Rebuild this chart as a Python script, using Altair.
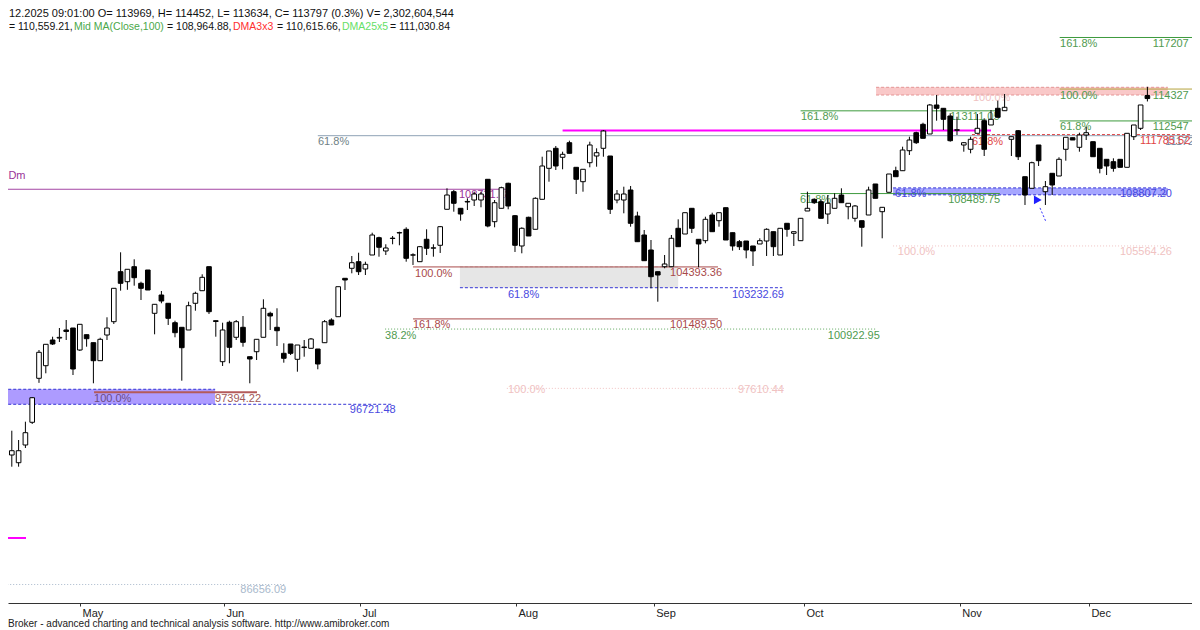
import altair as alt
import pandas as pd

FONT = "Liberation Sans"

# ---------------- daily OHLC (bar 1 .. 169) ----------------
opens = [92884, 93889, 93459, 94448, 95716, 98173, 98877, 100312, 100420, 100871,
         100982, 99753, 100608, 100162, 99156, 100591, 101334, 104127, 103568, 104407,
         103479, 104221, 101803, 102825, 102362, 101278, 101021, 100871, 102362, 103065,
         104407, 101390, 99100, 101301, 100463, 101021, 99379, 99658, 100463, 101803,
         101021, 99569, 100088, 99234, 99890, 99848, 99809, 100161, 101429, 101613,
         103758, 104316, 104685, 104278, 105059, 106026, 105284, 105980, 106290, 106494,
         105050, 104685, 105937, 105440, 105602, 107612, 108595, 107667, 108020, 108131,
         108131, 109287, 106919, 107667, 109064, 107254, 105563, 107165, 106495, 108170,
         109901, 111018, 110516, 111331, 109957, 109153, 110214, 110588, 111018, 110588,
         108131, 108131, 108689, 107237, 106176, 105339, 104127, 104406, 104406, 106550,
         106232, 107667, 105936, 105858, 107293, 106975, 107701, 106305, 105802, 105841,
         105563, 105674, 105841, 106361, 105059, 106830, 106271, 105858, 107517, 108170,
         108036, 107349, 107667, 108410, 107757, 107109, 106975, 107293, 109025, 107478,
         108561, 109767, 109767, 110884, 111890, 112359, 111817, 113437, 113252, 112822,
         112020, 111203, 110963, 111856, 112560, 112320, 113252, 113118, 111521, 112001,
         109432, 108784, 111203, 108595, 109622, 109471, 110963, 111610, 111074, 111761,
         111387, 111018, 110404, 110270, 110404, 109957, 111666, 112135, 113969]
highs = [94057, 95246, 94727, 95749, 97129, 99753, 100072, 100496, 100982, 101429,
         100982, 101189, 100608, 100162, 100440, 101580, 103199, 105210, 104261, 104820,
         103569, 104221, 102306, 103048, 102362, 101390, 101021, 102451, 103010, 103981,
         104407, 101390, 101278, 101390, 101429, 101652, 99379, 100351, 102585, 101893,
         102083, 100128, 100088, 100032, 100312, 100424, 99809, 101429, 101524, 103289,
         103758, 105003, 105187, 104685, 106305, 106082, 105658, 106121, 106361, 106606,
         105154, 105563, 106495, 105658, 106679, 108784, 108689, 107667, 108226, 108595,
         108595, 109287, 108131, 108874, 109097, 107293, 106606, 107198, 108281, 110549,
         110868, 111147, 110829, 111443, 109957, 109846, 111387, 111018, 112040, 110588,
         108689, 108874, 108913, 107478, 106455, 105897, 104127, 105059, 106176, 107053,
         107422, 107667, 105936, 107198, 107422, 107422, 107701, 106305, 105897, 105841,
         105563, 105993, 106550, 106361, 106550, 106830, 106361, 107109, 108595, 108226,
         108170, 108410, 108505, 108784, 107947, 107852, 106975, 108874, 109025, 107723,
         109583, 109991, 111108, 111666, 111946, 112448, 113493, 113995, 113252, 112973,
         112783, 111370, 111666, 112934, 112694, 113157, 113677, 114051, 111666, 112040,
         109432, 110270, 111203, 109192, 109622, 110516, 111633, 111610, 111890, 112225,
         111387, 111018, 110404, 110460, 110404, 111856, 112320, 113437, 114452]
lows = [92661, 93236, 93236, 94280, 95621, 97919, 98452, 100033, 100200, 100312,
        98357, 99697, 99938, 97894, 99156, 100312, 101206, 103067, 103116, 103345,
        102546, 103104, 100630, 102362, 101150, 100463, 98039, 100871, 101948, 103065,
        101765, 100496, 98860, 99011, 100312, 99937, 97894, 99195, 100463, 100871,
        99977, 99045, 99474, 98542, 99380, 99848, 98676, 100161, 101150, 101613,
        103104, 104037, 103942, 103942, 105059, 104965, 105060, 105658, 105602, 104685,
        104502, 104685, 105060, 104965, 105172, 107612, 107478, 106975, 107572, 107796,
        107724, 106606, 106606, 107667, 107612, 105228, 105154, 106121, 106495, 108170,
        109153, 109806, 109846, 110739, 108466, 108595, 109957, 109991, 110549, 107349,
        107947, 107388, 106640, 105802, 104741, 103198, 102451, 104317, 104406, 105523,
        106232, 106288, 104373, 105713, 106361, 106640, 105897, 105300, 105339, 104875,
        104446, 105674, 105004, 105004, 105059, 106082, 105563, 105858, 107517, 107908,
        107109, 106791, 107667, 107980, 107053, 106919, 105523, 107293, 108226, 105993,
        108561, 109432, 109767, 110644, 111259, 111577, 111817, 112560, 112040, 111387,
        111761, 110829, 110739, 111856, 110588, 112320, 112750, 113118, 110588, 110365,
        107852, 108784, 110030, 107852, 108410, 109471, 110326, 111482, 110829, 111482,
        110549, 109622, 109527, 109712, 109957, 109957, 111482, 112040, 113634]
closes = [93722, 94129, 94129, 95135, 97089, 99625, 100072, 100089, 100460, 100787,
          98692, 101189, 100385, 99156, 100351, 100982, 103199, 103479, 104261, 103792,
          103199, 103104, 102306, 102490, 101524, 100720, 99882, 102228, 102920, 103813,
          101893, 101345, 100871, 99905, 101334, 100183, 99251, 100351, 102082, 101653,
          100831, 99290, 99569, 100032, 99920, 100368, 98972, 101334, 101150, 103289,
          103663, 104629, 104127, 104540, 106176, 105491, 105451, 106000, 106310, 104875,
          105070, 105523, 105434, 105460, 106640, 108410, 107947, 107349, 108050, 108466,
          108466, 106679, 107980, 108818, 107796, 105602, 106551, 106121, 108226, 110030,
          110868, 110030, 110683, 110739, 109287, 109846, 111203, 110773, 111985, 107612,
          108466, 108466, 106830, 105802, 104741, 103848, 103942, 104557, 105993, 105523,
          107422, 106550, 105674, 107053, 106361, 107422, 105897, 105563, 105523, 105339,
          105284, 105858, 106494, 105523, 106550, 106494, 106361, 107109, 107667, 107980,
          107109, 107947, 108226, 107980, 107947, 107796, 106606, 108689, 108226, 107723,
          109583, 109432, 110923, 111482, 111331, 111577, 113437, 113252, 112638, 111443,
          112060, 111331, 111521, 112135, 110963, 112638, 112750, 113308, 111666, 110549,
          108410, 110214, 110326, 108874, 108969, 110404, 111633, 111482, 111761, 111890,
          110549, 109901, 110030, 109901, 109957, 111856, 112320, 113437, 113797]

month_ticks = [12.03, 33.2, 53.2, 76.15, 96.4, 118.5, 141.4, 160.4]
month_names = ["May", "Jun", "Jul", "Aug", "Sep", "Oct", "Nov", "Dec"]

header_1 = "12.2025 09:01:00 O= 113969, H= 114452, L= 113634, C= 113797 (0.3%) V= 2,302,604,544"
header_2 = ["= 110,559.21,", "Mid MA(Close,100)", "= 108,964.88,", "DMA3x3",
            "= 110,615.66,", "DMA25x5", "= 111,030.84"]
footer = "Broker - advanced charting and technical analysis software. http://www.amibroker.com"

# ---------------- scales ----------------
W, H = 1184, 595
XS = alt.Scale(domain=[1.4412, 175.559], nice=False, zero=False)
YS = alt.Scale(domain=[85623.5, 118854.2], nice=False, zero=False)
label_expr = "%s[indexof(%s, datum.value)]" % (
    "[" + ",".join("'%s'" % m for m in month_names) + "]",
    "[" + ",".join(str(t) for t in month_ticks) + "]")
XAX = alt.Axis(values=month_ticks, labelExpr=label_expr, title=None, grid=False,
               domainColor="#333333", tickColor="#333333", tickSize=3,
               labelFont=FONT, labelFontSize=11, labelColor="#222222",
               labelAlign="left", labelBaseline="top", labelPadding=1,
               labelOffset=2, labelFlush=False, labelOverlap=False)


def X(field):
    return alt.X(field, type="quantitative", scale=XS, axis=XAX)


def Y(field):
    return alt.Y(field, type="quantitative", scale=YS, axis=None)


layers = []


def band(i1, i2, p1, p2, fill, opacity=1.0):
    d = pd.DataFrame({"a": [i1], "b": [i2], "p": [p1], "q": [p2]})
    layers.append(alt.Chart(d).mark_rect(fill=fill, opacity=opacity, clip=True)
                  .encode(x=X("a"), x2="b", y=Y("p"), y2="q"))


def hline(i1, i2, p, color, width=1, dash=None):
    d = pd.DataFrame({"a": [i1], "b": [i2], "p": [p]})
    kw = dict(color=color, strokeWidth=width, clip=True)
    if dash:
        kw["strokeDash"] = dash
    layers.append(alt.Chart(d).mark_rule(**kw).encode(x=X("a"), x2="b", y=Y("p")))


def label(txt, i, p, color, size=11):
    d = pd.DataFrame({"i": [i], "p": [p], "t": [txt]})
    layers.append(alt.Chart(d).mark_text(align="left", baseline="middle", font=FONT,
                                         fontSize=size, color=color)
                  .encode(x=X("i"), y=Y("p"), text="t:N"))


GREEN = "#3d9a3d"
GTXT = "#4f9a4f"
BLUE = "#3535d5"
DRED = "#a84a4a"
RED = "#e04545"
PURP = "#a445a4"
PINK = "#f0c2c2"
DASH = [3, 2]
DOT = [1, 2]

# bands
band(0, 31.9, 97560, 96721.48, "#ad9bff")
band(67.9, 100.0, 104393.36, 103232.69, "#e6e6e6")
band(129.1, 172.0, 114425, 113995, "#f9c8c8")
band(131.6, 172.0, 108807.20, 108420, "#a6a6ff")

# band borders
hline(0, 31.9, 97560, BLUE, 1, DASH)
hline(129.1, 172.0, 114425, "#e49494", 1, DASH)
hline(129.1, 172.0, 113995, "#e49494", 1, DASH)
hline(131.6, 172.0, 108807.20, BLUE, 1, DASH)
hline(131.6, 172.0, 108420, BLUE, 1, DASH)
hline(67.9, 100.0, 104393.36, "#c8c8c8", 1, DASH)

# level lines
hline(0, 75, 108731.18, PURP, 1)
hline(47, 176, 111722, "#8ea2b6", 1)
hline(83, 146, 112013, "#ff00ff", 2)
hline(118, 147, 113111.05, GREEN, 1)
hline(156.1, 176, 117207, GREEN, 1)
hline(156.1, 176, 114327, "#b4a23c", 1)
hline(156.1, 176, 112547, GREEN, 1)
hline(143.2, 175.3, 111785.52, RED, 1, DASH)
hline(118, 147.3, 108489.75, GREEN, 1)
hline(131.6, 172.0, 105564.26, PINK, 1, DOT)
hline(61.0, 105.85, 104393.36, DRED, 1)
hline(67.9, 115.3, 103232.69, BLUE, 1, DASH)
hline(61.0, 105.85, 101489.50, DRED, 1)
hline(56.9, 129.1, 100922.95, "#5fa85f", 1, DOT)
hline(74.8, 115.7, 97610.44, PINK, 1, DOT)
hline(14.1, 38.06, 97394.22, "#b45a5a", 2)
hline(0, 58.06, 96721.48, BLUE, 1, DASH)
hline(0, 42.2, 86656.09, "#a9b9cc", 1, DOT)
hline(0, 4.09, 89254, "#ff00ff", 2)

# labels
label("Dm", 1.5, 109471, "#993399")
label("108731.18", 67.76, 108410, "#993399")
label("61.8%", 47.03, 111370, "#6f7f86")
label("111722.70", 171.6, 111370, "#6f86a0")
label("161.8%", 118.06, 112766, GTXT)
label("113111.05", 139.97, 112766, GTXT)
label("100.0%", 143.35, 113828, PINK)
label("161.8%", 156.15, 116844, GTXT)
label("117207", 169.8, 116844, GTXT)
label("100.0%", 156.15, 113939, GTXT)
label("114327", 169.8, 113939, GTXT)
label("61.8%", 156.15, 112208, GTXT)
label("112547", 169.8, 112208, GTXT)
label("61.8%", 143.2, 111370, RED)
label("111785.52", 167.9, 111426, RED)
label("61.8%", 131.9, 108466, "#4848e0")
label("108807.20", 164.97, 108466, "#4848e0")
label("61.8%", 117.9, 108131, GTXT)
label("108489.75", 139.7, 108131, GTXT)
label("100.0%", 132.3, 105227, PINK)
label("105564.26", 164.97, 105227, PINK)
label("100.0%", 61.3, 103998, DRED)
label("104393.36", 98.8, 104054, DRED)
label("61.8%", 74.97, 102825, "#4848e0")
label("103232.69", 107.9, 102825, "#4848e0")
label("161.8%", 61.0, 101150, DRED)
label("101489.50", 98.8, 101150, DRED)
label("38.2%", 56.9, 100535, GTXT)
label("100922.95", 122.0, 100535, GTXT)
label("100.0%", 74.97, 97519, PINK)
label("97610.44", 108.8, 97519, PINK)
label("100.0%", 14.1, 97017, "#6c4c84")
label("97394.22", 31.9, 97017, "#a05858")
label("96721.48", 51.7, 96402, "#4848e0")
label("86656.09", 35.6, 86349, "#a9b9cc")

# ---------------- candles ----------------
n = len(opens)
df = pd.DataFrame({"i": list(range(1, n + 1)), "o": opens, "h": highs,
                   "l": lows, "c": closes})
df["x1"] = df["i"] - 0.34
df["x2"] = df["i"] + 0.34
base = alt.Chart(df)
wicks = base.mark_rule(color="black", strokeWidth=1, clip=True).encode(
    x=X("i"), y=Y("l"), y2="h")
bodies = base.mark_rect(stroke="black", strokeWidth=1, clip=True).encode(
    x=X("x1"), x2="x2", y=Y("o"), y2="c",
    fill=alt.condition("datum.c >= datum.o", alt.value("white"), alt.value("black")))
layers += [wicks, bodies]

# blue arrow
arr = pd.DataFrame({"a": [153.2], "b": [154.1], "p": [107690], "q": [106902]})
layers.append(alt.Chart(arr).mark_rule(color="#3030ff", strokeWidth=1,
                                       strokeDash=[2, 2], clip=True)
              .encode(x=X("a"), x2="b", y=Y("p"), y2="q"))
head = pd.DataFrame({"a": [152.6], "p": [108200]})
layers.append(alt.Chart(head).mark_point(shape="triangle-up", filled=True, size=80,
                                         angle=330, color="#2020ff", opacity=1)
              .encode(x=X("a"), y=Y("p")))

# ---------------- header / footer text ----------------
one = pd.DataFrame({"z": [0]})
layers.append(alt.Chart(one).mark_text(text=header_1, align="left", baseline="middle",
                                       font=FONT, fontSize=11, color="#111111")
              .encode(x=alt.value(1), y=alt.value(6)))
h2_x = [1, 66, 159, 225, 269, 334, 382]
h2_col = ["#111111", "#4aa84a", "#111111", "#ff3030", "#111111", "#66e066", "#111111"]
for t, xx, cc in zip(header_2, h2_x, h2_col):
    layers.append(alt.Chart(one).mark_text(text=t, align="left", baseline="middle",
                                           font=FONT, fontSize=10.5, color=cc)
                  .encode(x=alt.value(xx), y=alt.value(19)))
layers.append(alt.Chart(one).mark_text(text=footer, align="left", baseline="middle",
                                       font=FONT, fontSize=10, color="#222222")
              .encode(x=alt.value(0), y=alt.value(616)))

chart = alt.layer(*layers).properties(
    width=W, height=H,
    autosize=alt.AutoSizeParams(type="none"),
    padding={"left": 0, "top": 0, "right": 0, "bottom": 27},
    background="white",
).configure_view(stroke=None)

chart.save("out.html", embed_options={"renderer": "svg", "actions": False})
